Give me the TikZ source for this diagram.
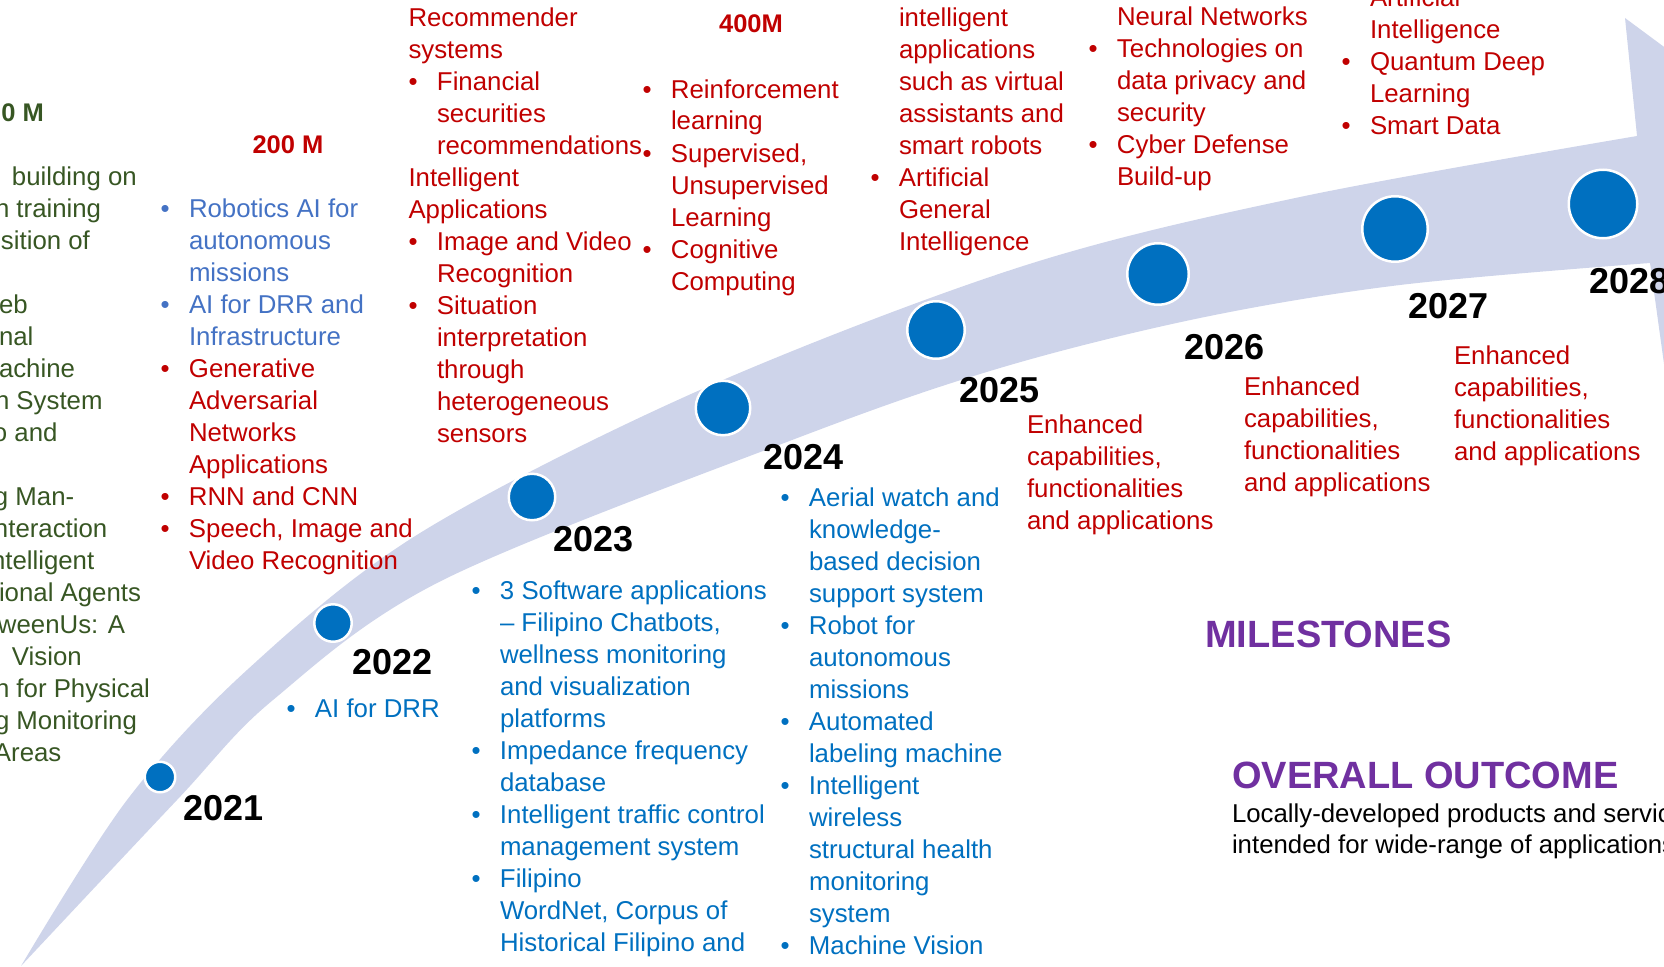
\documentclass[tikz,border=0pt]{standalone}
\usepackage{fontspec}
\setmainfont{Liberation Sans}
\usepackage{array}
\definecolor{bandc}{RGB}{206,212,234}
\definecolor{dotblue}{RGB}{0,112,192}
\definecolor{tred}{RGB}{192,0,0}
\definecolor{lblue}{RGB}{68,114,196}
\definecolor{tgreen}{RGB}{55,86,35}
\definecolor{tpurple}{RGB}{112,48,160}
\newcommand\bu{\makebox[28.5pt][l]{\textbullet}}
\newcommand\mc[1]{\multicolumn{2}{@{}l@{}}{#1}}
\newenvironment{blist}{\begin{tabular}[t]{@{}l@{}l@{}}}{\end{tabular}}
\begin{document}
\begin{tikzpicture}[x=1pt,y=-1pt,
  txt/.style={inner sep=0pt, outer sep=0pt, anchor=base west, font=\fontsize{25.8}{32}\selectfont},
  gtxt/.style={txt, text=tgreen},
  head/.style={inner sep=0pt, anchor=base, font=\fontsize{25.5}{30}\selectfont\bfseries},
  yr/.style={inner sep=0pt, anchor=base west, font=\fontsize{36}{40}\selectfont\bfseries, text=black},
  dot/.style={circle, fill=dotblue, draw=white, line width=2.5pt, inner sep=0pt},
  title/.style={inner sep=0pt, anchor=base west, font=\bfseries, text=tpurple}]
\useasboundingbox (0,0) rectangle (1664,966);
% band arrow
\fill[bandc] plot[smooth,tension=0.55] coordinates {(21,966) (127,800) (247,670) (420,533) (700,390) (1020,267) (1300,197) (1637,136)}
  -- (1625,18) -- (1833,172) -- (1669,400) -- (1650,263)
  -- plot[smooth,tension=0.55] coordinates {(1650,263) (1400,285) (1200,318) (1000,368) (800,437) (443,580) (273,700) (177,800) (21,966)} -- cycle;
% dots
\node[dot, minimum size=30.5pt] (d2021) at (160,777) {};
\node[dot, minimum size=37.5pt] (d2022) at (333,623) {};
\node[dot, minimum size=46.5pt] (d2023) at (532,497) {};
\node[dot, minimum size=54.5pt] (d2024) at (723,408) {};
\node[dot, minimum size=57.5pt] (d2025) at (936,330) {};
\node[dot, minimum size=61.5pt] (d2026) at (1158,274) {};
\node[dot, minimum size=65.5pt] (d2027) at (1395,229) {};
\node[dot, minimum size=68.5pt] (d2028) at (1603,204) {};
% years
\node[yr] (y2021) at (183,820) {2021};
\node[yr] (y2022) at (352,674) {2022};
\node[yr] (y2023) at (553,551) {2023};
\node[yr] (y2024) at (763,469) {2024};
\node[yr] (y2025) at (959,402) {2025};
\node[yr] (y2026) at (1184,359) {2026};
\node[yr] (y2027) at (1408,318) {2027};
\node[yr] (y2028) at (1589,293) {2028};
% left green block
\node[head, anchor=base east, text=tgreen] (h100) at (44,121) {0 M};
\foreach \t/\s/\k in {building on/12/0, n training/-5/1, sition of/1/2, eb/-1/4, nal/-1/5, achine/-1/6, n System/-5/7, o and/-7/8, g Man-/-6/10, nteraction/-6/11, ntelligent/-9/12, ional Agents/-1/13, weenUs: A/-2/14, Vision/12/15, n for Physical/-5/16, g Monitoring/-5/17, Areas/-6/18}
  \node[gtxt] (g\k) at (\s,{185+32*\k}) {\t};
% 200 M
\node[head, text=tred] (h200) at (288,153) {200 M};
\node[txt, text=tred] (b200) at (160.5,217) {\begin{blist}
\color{lblue}\bu & \color{lblue}Robotics AI for\\
 & \color{lblue}autonomous\\
 & \color{lblue}missions\\
\color{lblue}\bu & \color{lblue}AI for DRR and\\
 & \color{lblue}Infrastructure\\
\bu & Generative\\
 & Adversarial\\
 & Networks\\
 & Applications\\
\bu & RNN and CNN\\
\bu & Speech, Image and\\
 & Video Recognition
\end{blist}};
% recommender column
\node[txt, text=tred] (brec) at (408.5,27) {\begin{blist}
\mc{Recommender}\\
\mc{systems}\\
\bu & Financial\\
 & securities\\
 & recommendations\\
\mc{Intelligent}\\
\mc{Applications}\\
\bu & Image and Video\\
 & Recognition\\
\bu & Situation\\
 & interpretation\\
 & through\\
 & heterogeneous\\
 & sensors
\end{blist}};
% 400M
\node[head, text=tred] (h400) at (751,33) {400M};
\node[txt, text=tred] (b400) at (642.5,98) {\begin{blist}
\bu & Reinforcement\\
 & learning\\
\bu & Supervised,\\
 & Unsupervised\\
 & Learning\\
\bu & Cognitive\\
 & Computing
\end{blist}};
% column D
\node[txt, text=tred] (bagi) at (870.5,27) {\begin{blist}
 & intelligent\\
 & applications\\
 & such as virtual\\
 & assistants and\\
 & smart robots\\
\bu & Artificial\\
 & General\\
 & Intelligence
\end{blist}};
% column E
\node[txt, text=tred] (bcyb) at (1088.5,26) {\begin{blist}
 & Neural Networks\\
\bu & Technologies on\\
 & data privacy and\\
 & security\\
\bu & Cyber Defense\\
 & Build-up
\end{blist}};
% column F
\node[txt, text=tred] (bqdl) at (1341.5,7) {\begin{blist}
 & Artificial\\
 & Intelligence\\
\bu & Quantum Deep\\
 & Learning\\
\bu & Smart Data
\end{blist}};
% 2022
\node[txt, text=dotblue] (b2022) at (286.5,717) {\begin{blist}
\bu & AI for DRR
\end{blist}};
% 2023
\node[txt, text=dotblue] (b2023) at (471.5,599) {\begin{blist}
\bu & 3 Software applications\\
 & \textendash{} Filipino Chatbots,\\
 & wellness monitoring\\
 & and visualization\\
 & platforms\\
\bu & Impedance frequency\\
 & database\\
\bu & Intelligent traffic control\\
 & management system\\
\bu & Filipino\\
 & WordNet, Corpus of\\
 & Historical Filipino and
\end{blist}};
% 2024
\node[txt, text=dotblue] (b2024) at (780.5,506) {\begin{blist}
\bu & Aerial watch and\\
 & knowledge-\\
 & based decision\\
 & support system\\
\bu & Robot for\\
 & autonomous\\
 & missions\\
\bu & Automated\\
 & labeling machine\\
\bu & Intelligent\\
 & wireless\\
 & structural health\\
 & monitoring\\
 & system\\
\bu & Machine Vision
\end{blist}};
% 2025-2027
\node[txt, text=tred] (b2025) at (1027,433.5) {\begin{tabular}[t]{@{}l@{}}Enhanced\\capabilities,\\functionalities\\and applications\end{tabular}};
\node[txt, text=tred] (b2026) at (1244,395) {\begin{tabular}[t]{@{}l@{}}Enhanced\\capabilities,\\functionalities\\and applications\end{tabular}};
\node[txt, text=tred] (b2027) at (1454,364.5) {\begin{tabular}[t]{@{}l@{}}Enhanced\\capabilities,\\functionalities\\and applications\end{tabular}};
% titles
\node[title, font=\fontsize{38}{40}\selectfont\bfseries] (mile) at (1205,647) {MILESTONES};
\node[title, font=\fontsize{38}{40}\selectfont\bfseries] (outc) at (1232,788) {OVERALL OUTCOME};
\node[txt, text=black, font=\fontsize{25.8}{31}\selectfont] (outt) at (1232,822) {\begin{tabular}[t]{@{}l@{}}Locally-developed products and services\\intended for wide-range of applications\end{tabular}};
\end{tikzpicture}
\end{document}
